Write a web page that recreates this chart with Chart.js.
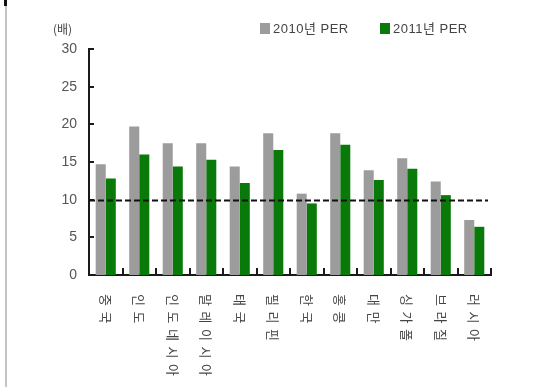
<!DOCTYPE html>
<html>
<head>
<meta charset="utf-8">
<script src="https://cdn.jsdelivr.net/npm/chart.js@4.4.1/dist/chart.umd.min.js"></script>
<style>
  html, body { margin: 0; padding: 0; background: #fff; }
  #wrap { position: relative; width: 541px; height: 387px; }
  #edge { position: absolute; left: 5px; top: 0; width: 2px; height: 387px; background: #c4c4c4; }
  #mark { position: absolute; left: 4px; top: 0; width: 3px; height: 6px; background: #111; }
</style>
</head>
<body>
<div id="wrap">
  <canvas id="c" width="541" height="387"></canvas>
  <div id="edge"></div>
  <div id="mark"></div>
</div>
<script>
const categories = ['중국', '인도', '인도네시아', '말레이시아', '태국', '필리핀', '한국', '홍콩', '대만', '싱가폴', '브라질', '러시아'];
const per2010 = [14.7, 19.7, 17.5, 17.5, 14.4, 18.8, 10.8, 18.8, 13.9, 15.5, 12.4, 7.3];
const per2011 = [12.8, 16.0, 14.4, 15.3, 12.2, 16.6, 9.5, 17.3, 12.6, 14.1, 10.6, 6.4];
const seriesNames = ['2010년 PER', '2011년 PER'];
const yTicks = [0, 5, 10, 15, 20, 25, 30];
const refLine = 10;
const unitLabel = '(배)';

const GRAY = '#9c9c9c';
const GREEN = '#097a09';
const FONT = '"Liberation Sans", "Noto Sans CJK KR", sans-serif';

// axis ticks pointing inward, dashed reference line, rotated labels, legend
const decor = {
  id: 'decor',
  afterDraw(chart) {
    const { ctx, chartArea: a, scales: { x, y } } = chart;
    ctx.save();

    // y ticks (inside)
    ctx.strokeStyle = '#1a1a1a';
    ctx.lineWidth = 2;
    yTicks.forEach(v => {
      const py = Math.round(y.getPixelForValue(v));
      ctx.beginPath();
      ctx.moveTo(a.left, py);
      ctx.lineTo(a.left + 5, py);
      ctx.stroke();
    });

    // x ticks at category boundaries
    const step = (a.right - a.left) / categories.length;
    for (let i = 1; i <= categories.length; i++) {
      const px = Math.round(a.left + step * i);
      ctx.beginPath();
      ctx.moveTo(px, a.bottom);
      ctx.lineTo(px, a.bottom - 7);
      ctx.stroke();
    }

    // dashed reference line
    const ry = Math.round(y.getPixelForValue(refLine)) + 0.5;
    ctx.setLineDash([6, 3]);
    ctx.lineWidth = 2;
    ctx.strokeStyle = '#111';
    ctx.beginPath();
    ctx.moveTo(a.left, ry);
    ctx.lineTo(a.right - 3, ry);
    ctx.stroke();
    ctx.setLineDash([]);

    // rotated category labels, read top to bottom
    ctx.fillStyle = '#444';
    ctx.font = '13px "Noto Sans CJK KR", sans-serif';
    ctx.textAlign = 'center';
    ctx.textBaseline = 'middle';
    categories.forEach((label, i) => {
      const cx = x.getPixelForValue(i);
      [...label].forEach((ch, k) => {
        ctx.save();
        ctx.translate(cx, a.bottom + 25 + k * 17.5);
        ctx.rotate(Math.PI / 2);
        ctx.fillText(ch, 0, 0);
        ctx.restore();
      });
    });

    // unit label
    ctx.font = '12px "Noto Sans CJK KR", sans-serif';
    ctx.fillStyle = '#444';
    ctx.textAlign = 'left';
    ctx.fillText(unitLabel, 53, 29);

    // legend
    const items = [
      { x: 260, color: GRAY, text: seriesNames[0] },
      { x: 380, color: GREEN, text: seriesNames[1] }
    ];
    items.forEach(it => {
      ctx.fillStyle = it.color;
      ctx.fillRect(it.x, 23, 10, 11);
      ctx.fillStyle = '#444';
      ctx.font = '13px ' + FONT;
      ctx.letterSpacing = '0.5px';
      ctx.textBaseline = 'middle';
      ctx.fillText(it.text, it.x + 13, 29);
    });

    ctx.restore();
  }
};

new Chart(document.getElementById('c'), {
  type: 'bar',
  data: {
    labels: categories,
    datasets: [
      { label: seriesNames[0], data: per2010, backgroundColor: GRAY },
      { label: seriesNames[1], data: per2011, backgroundColor: GREEN }
    ]
  },
  options: {
    responsive: false,
    animation: false,
    layout: { padding: { top: 49, right: 50, left: 0, bottom: 0 } },
    plugins: { legend: { display: false }, tooltip: { enabled: false } },
    datasets: { bar: { categoryPercentage: 0.6, barPercentage: 1.0 } },
    scales: {
      x: {
        grid: { display: false, drawTicks: false },
        border: { color: '#1a1a1a', width: 2 },
        ticks: { display: false },
        afterFit(s) { s.height = 112; }
      },
      y: {
        min: 0,
        max: 30,
        grid: { display: false, drawTicks: false },
        border: { color: '#1a1a1a', width: 2 },
        ticks: {
          stepSize: 5,
          padding: 12,
          color: '#555',
          font: { family: FONT, size: 14 }
        },
        afterFit(s) { s.width = 89; }
      }
    }
  },
  plugins: [decor]
});
</script>
</body>
</html>
